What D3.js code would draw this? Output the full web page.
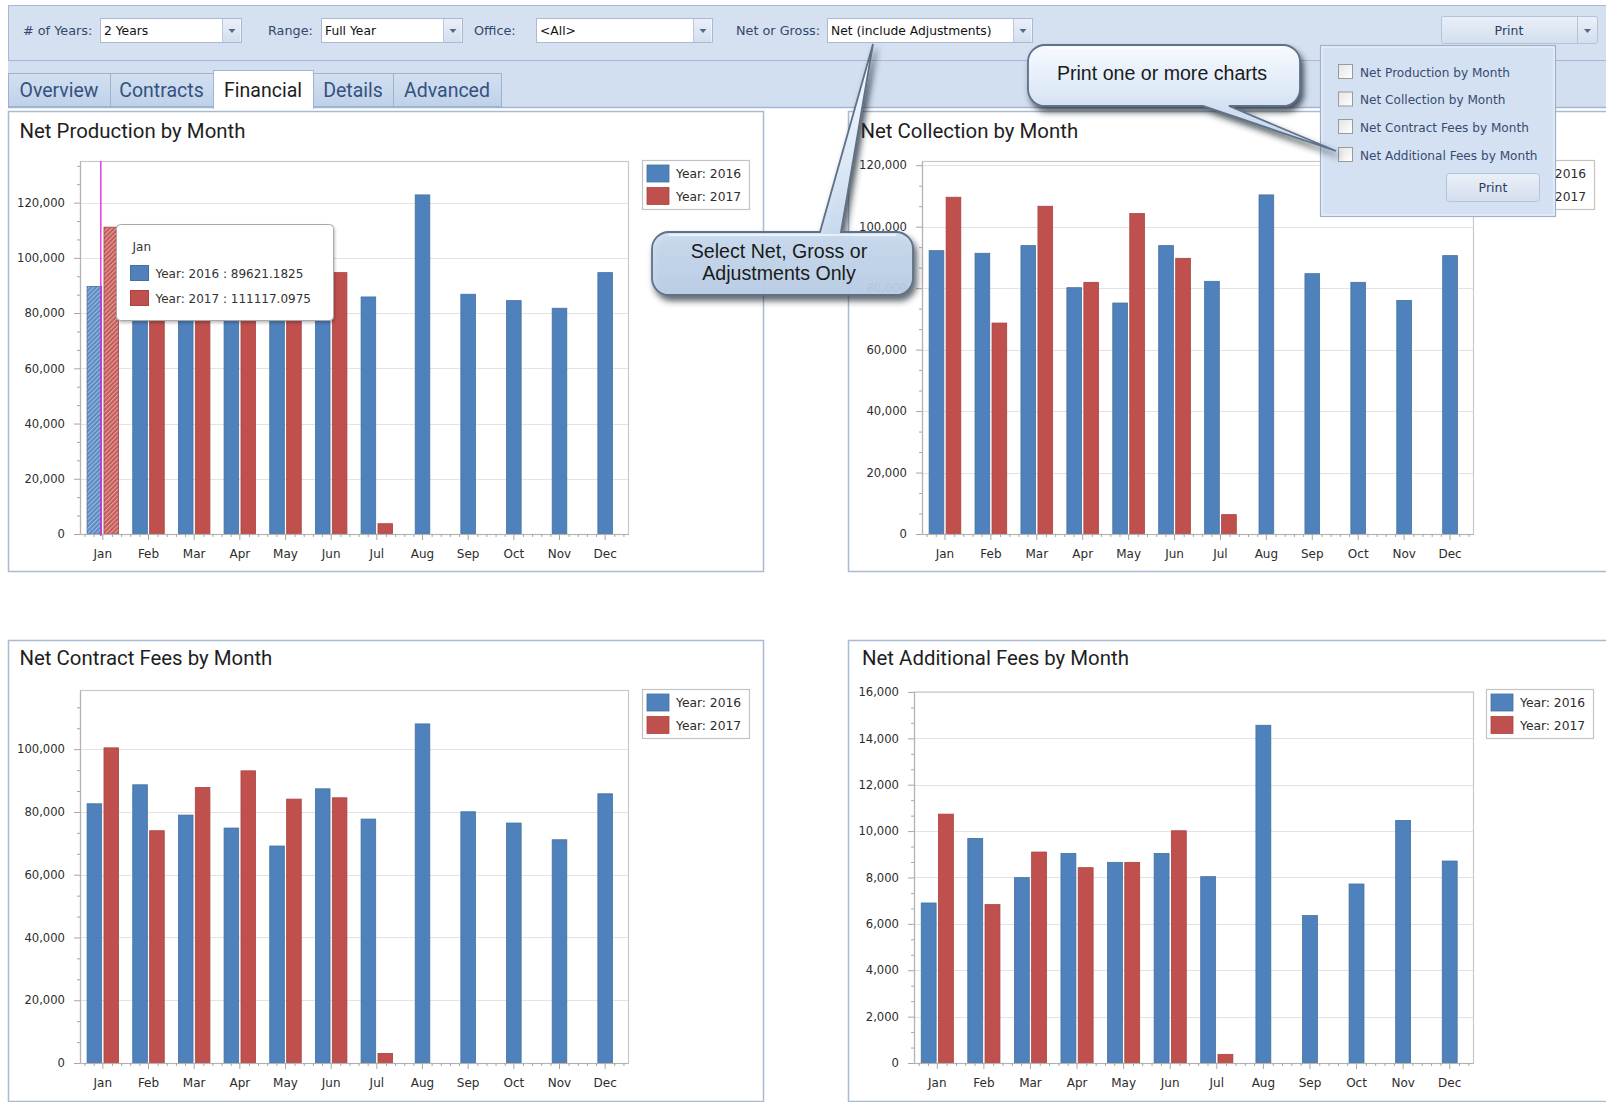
<!DOCTYPE html>
<html><head><meta charset="utf-8">
<script src="https://cdn.jsdelivr.net/npm/d3@7"></script>
<style>
html,body{margin:0;padding:0;background:#fff;overflow:hidden}
svg{display:block}
</style></head><body>
<svg id="c" width="1606" height="1102"></svg>
<script>
// ---------------- DATA ----------------
const months = ["Jan","Feb","Mar","Apr","May","Jun","Jul","Aug","Sep","Oct","Nov","Dec"];
const seriesNames = ["Year: 2016","Year: 2017"];
const production2016 = [89621.1825, 90500, 94000, 88000, 83000, 97000, 85840, 122790, 86820, 84510, 81750, 94650];
const production2017 = [111117.0975, 85000, 100000, 97000, 95000, 94650, 3730, null, null, null, null, null];
const collection2016 = [92200, 91340, 93840, 80150, 75160, 93840, 82220, 110340, 84710, 81890, 76020, 90580];
const collection2017 = [109580, 68640, 106650, 81890, 104270, 89710, 6300, null, null, null, null, null];
const contract2016 = [82600, 88650, 79000, 74870, 69140, 87370, 77730, 108050, 80050, 76460, 71140, 85780];
const contract2017 = [100420, 74010, 87810, 93100, 84090, 84510, 3060, null, null, null, null, null];
const additional2016 = [6900, 9685, 7992, 9039, 8652, 9039, 8035, 14563, 6357, 7719, 10460, 8709];
const additional2017 = [10731, 6830, 9097, 8423, 8652, 10015, 373, null, null, null, null, null];
const chartTitles = ["Net Production by Month","Net Collection by Month","Net Contract Fees by Month","Net Additional Fees by Month"];
const majorSteps = [20000, 20000, 20000, 2000];
const filterLabels = ["# of Years:","Range:","Office:","Net or Gross:"];
const filterValues = ["2 Years","Full Year","<All>","Net (include Adjustments)"];
const tabNames = ["Overview","Contracts","Financial","Details","Advanced"];
const selectedTab = "Financial";
const hoverMonth = "Jan";

// ---------------- SETUP ----------------
const svg = d3.select("#c");
const UI = "DejaVu Sans, Verdana, sans-serif";
const HEAD = "Roboto, 'Open Sans', sans-serif";
const CALL = "'Liberation Sans', Arial, sans-serif";
const BLUE = "#4f81bd", BLUE_S = "#44719f", RED = "#c0504d", RED_S = "#a84441";

const defs = svg.append("defs");
function hatch(id, base, line){
  const p = defs.append("pattern").attr("id",id).attr("patternUnits","userSpaceOnUse")
    .attr("width",3.2).attr("height",3.2).attr("patternTransform","rotate(45)");
  p.append("rect").attr("width",3.2).attr("height",3.2).attr("fill",base);
  p.append("rect").attr("width",1.1).attr("height",3.2).attr("fill",line);
}
hatch("hb","#5b89c2","#9dbbe0");
hatch("hr","#c45a57","#e3a3a1");
const gCall = defs.append("linearGradient").attr("id","gcall").attr("x1",0).attr("y1",0).attr("x2",0).attr("y2",1);
gCall.append("stop").attr("offset","0").attr("stop-color","#f7faff");
gCall.append("stop").attr("offset","0.45").attr("stop-color","#dde9f7");
gCall.append("stop").attr("offset","1").attr("stop-color","#c0d5ee").attr("stop-opacity",0.85);
const gBtn = defs.append("linearGradient").attr("id","gbtn").attr("x1",0).attr("y1",0).attr("x2",0).attr("y2",1);
gBtn.append("stop").attr("offset","0").attr("stop-color","#eaf0f8");
gBtn.append("stop").attr("offset","1").attr("stop-color","#d3deee");
const gTab = defs.append("linearGradient").attr("id","gtab").attr("x1",0).attr("y1",0).attr("x2",0).attr("y2",1);
gTab.append("stop").attr("offset","0").attr("stop-color","#d3e0f1");
gTab.append("stop").attr("offset","1").attr("stop-color","#bfd1e9");
const gChk = defs.append("linearGradient").attr("id","gchk").attr("x1",0).attr("y1",0).attr("x2",1).attr("y2",1);
gChk.append("stop").attr("offset","0").attr("stop-color","#e4e4e4");
gChk.append("stop").attr("offset","1").attr("stop-color","#ffffff");
const fSh = defs.append("filter").attr("id","shadow").attr("x","-20%").attr("y","-20%").attr("width","150%").attr("height","170%");
fSh.append("feDropShadow").attr("dx",3).attr("dy",5).attr("stdDeviation",3.2).attr("flood-color","#222a36").attr("flood-opacity",0.8);
const fTip = defs.append("filter").attr("id","tipshadow").attr("x","-10%").attr("y","-10%").attr("width","130%").attr("height","140%");
fTip.append("feDropShadow").attr("dx",1).attr("dy",2).attr("stdDeviation",1.5).attr("flood-color","#000").attr("flood-opacity",0.25);

// ---------------- PANELS ----------------
const panels = [[8,111,755,460],[848,111,800,460],[8,640,755,461],[848,640,800,461]];
svg.append("g").selectAll("rect").data(panels).join("rect")
  .attr("x",d=>d[0]+0.5).attr("y",d=>d[1]+0.5).attr("width",d=>d[2]).attr("height",d=>d[3])
  .attr("fill","#fff").attr("stroke","#a9bbd3").attr("stroke-width",1.5);

// ---------------- CHART ----------------
function drawChart(cfg){
  const g = svg.append("g");
  const x = d3.scaleBand().domain(months).range([cfg.x0,cfg.x1]);
  const vals = cfg.a.concat(cfg.b).filter(v=>v!=null);
  const ymax = d3.max(vals)*1.1;
  const y = d3.scaleLinear().domain([0,ymax]).range([cfg.y1,cfg.y0]);
  const major = d3.range(0, ymax, cfg.step);
  const minor = d3.range(0, ymax, cfg.step/3).filter((v,i)=>i%3!==0);

  g.append("text").text(cfg.title).attr("x",cfg.tx).attr("y",cfg.ty)
    .attr("font-family",HEAD).attr("font-size",20.4).attr("fill","#1e1e1e");

  g.append("g").selectAll("line").data(major.slice(1)).join("line")
    .attr("x1",cfg.x0).attr("x2",cfg.x1).attr("y1",d=>Math.round(y(d))+0.5).attr("y2",d=>Math.round(y(d))+0.5)
    .attr("stroke","#e3e3e3");

  const bw = x.bandwidth()*0.32, gap = x.bandwidth()*0.05;
  const rows = months.map((m,i)=>({m,a:cfg.a[i],b:cfg.b[i]}));
  const bars = [];
  rows.forEach(r=>{
    const c = x(r.m)+x.bandwidth()/2;
    if(r.b!=null){
      bars.push({m:r.m,v:r.a,x:c-gap/2-bw,s:0});
      bars.push({m:r.m,v:r.b,x:c+gap/2,s:1});
    } else bars.push({m:r.m,v:r.a,x:c-bw/2,s:0});
  });
  g.append("g").selectAll("rect").data(bars).join("rect")
    .attr("x",d=>d.x).attr("width",bw)
    .attr("y",d=>y(d.v)).attr("height",d=>y(0)-y(d.v))
    .attr("fill",d=> (cfg.hover && d.m===hoverMonth) ? (d.s? "url(#hr)":"url(#hb)") : (d.s? RED: BLUE))
    .attr("stroke",d=> d.s? RED_S: BLUE_S).attr("stroke-width",0.8);

  g.append("rect").attr("x",cfg.x0+0.5).attr("y",cfg.y0+0.5).attr("width",cfg.x1-cfg.x0).attr("height",cfg.y1-cfg.y0)
    .attr("fill","none").attr("stroke","#c8c8c8").attr("stroke-width",1.2);

  // axes
  const ya = g.append("g").attr("transform",`translate(${cfg.x0},0)`)
    .call(d3.axisLeft(y).tickValues(major).tickSize(6).tickPadding(9).tickSizeOuter(0).tickFormat(d3.format(",")));
  const ym = g.append("g").attr("transform",`translate(${cfg.x0},0)`)
    .call(d3.axisLeft(y).tickValues(minor).tickSize(3).tickFormat(""));
  ym.select(".domain").remove();
  const xa = g.append("g").attr("transform",`translate(0,${cfg.y1})`)
    .call(d3.axisBottom(x).tickSize(6).tickPadding(9).tickSizeOuter(0));
  const xl = d3.scaleLinear().domain([-0.5,11.5]).range([cfg.x0,cfg.x1]);
  const mx = [];
  months.forEach((m,i)=>[-2,-1,1,2].forEach(j=>mx.push(i+j/5)));
  const xm = g.append("g").attr("transform",`translate(0,${cfg.y1})`)
    .call(d3.axisBottom(xl).tickValues(mx).tickSize(3).tickFormat(""));
  xm.select(".domain").remove();
  [ya,ym,xa,xm].forEach(a=>{
    a.selectAll(".domain").attr("stroke","#b3b3b3").attr("stroke-width",1.2);
    a.selectAll(".tick line").attr("stroke","#a6a6a6");
    a.attr("font-family",UI).attr("font-size",11.6);
    a.selectAll("text").attr("fill","#2c2c2c");
  });
  xa.attr("font-size",12);

  // legend
  const lg = g.append("g").attr("transform",`translate(${cfg.lx},${cfg.ly})`);
  lg.append("rect").attr("x",0.5).attr("y",0.5).attr("width",107).attr("height",49)
    .attr("fill","#fff").attr("stroke","#c4c4c4").attr("stroke-width",1.2);
  const li = lg.selectAll("g").data(seriesNames).join("g").attr("transform",(d,i)=>`translate(5,${5+i*22.5})`);
  li.append("rect").attr("width",22).attr("height",17).attr("fill",(d,i)=>i?RED:BLUE).attr("stroke",(d,i)=>i?RED_S:BLUE_S).attr("stroke-width",0.8);
  li.append("text").text(d=>d).attr("x",29).attr("y",13).attr("font-family",UI).attr("font-size",12.3).attr("fill","#2c2c2c");

  return {x,y,g,bw,gap};
}

const c1 = drawChart({title:chartTitles[0],tx:19.5,ty:138,x0:80,x1:628,y0:161,y1:534,a:production2016,b:production2017,step:majorSteps[0],lx:642,ly:160,hover:true});
drawChart({title:chartTitles[1],tx:860.5,ty:138,x0:922,x1:1473,y0:161,y1:534,a:collection2016,b:collection2017,step:majorSteps[1],lx:1487,ly:160});
drawChart({title:chartTitles[2],tx:19.5,ty:665,x0:80,x1:628,y0:690,y1:1063,a:contract2016,b:contract2017,step:majorSteps[2],lx:642,ly:689});
drawChart({title:chartTitles[3],tx:862,ty:665,x0:914,x1:1473,y0:691.5,y1:1063,a:additional2016,b:additional2017,step:majorSteps[3],lx:1486,ly:689});

// crosshair + tooltip on chart 1
{
  const cx = c1.x(hoverMonth)+c1.x.bandwidth()/2 - 2;
  c1.g.append("line").attr("x1",cx).attr("x2",cx).attr("y1",161).attr("y2",536)
    .attr("stroke","#e020e0").attr("stroke-width",1.3);
  const i = months.indexOf(hoverMonth);
  const tip = c1.g.append("g").attr("transform","translate(116.5,224.5)");
  tip.append("rect").attr("width",217).attr("height",96).attr("rx",4)
    .attr("fill","#fff").attr("stroke","#a8a8a8").attr("filter","url(#tipshadow)");
  tip.append("text").text(hoverMonth).attr("x",16).attr("y",26).attr("font-family",UI).attr("font-size",12).attr("fill","#333");
  const tv = [[seriesNames[0]+" : "+production2016[i], BLUE, BLUE_S],[seriesNames[1]+" : "+production2017[i], RED, RED_S]];
  const tr = tip.selectAll("g.r").data(tv).join("g").attr("class","r").attr("transform",(d,k)=>`translate(14,${41+k*25})`);
  tr.append("rect").attr("width",18).attr("height",15).attr("fill",d=>d[1]).attr("stroke",d=>d[2]);
  tr.append("text").text(d=>d[0]).attr("x",25).attr("y",12.5).attr("font-family",UI).attr("font-size",12).attr("fill","#333");
}

// ---------------- TOOLBAR ----------------
svg.append("rect").attr("x",8.5).attr("y",5.5).attr("width",1610).attr("height",55)
  .attr("fill","#d5e1f1").attr("stroke","#a7b9d3");
svg.append("rect").attr("x",8).attr("y",61).attr("width",1610).attr("height",46).attr("fill","#d2dff0");
svg.append("line").attr("x1",8).attr("x2",1606).attr("y1",107.5).attr("y2",107.5).attr("stroke","#a3b6d1").attr("stroke-width",1.5);

const labelX = [23,268,474,736];
const combos = [[100,141],[321,141],[536,176],[827,205]];
filterLabels.forEach((t,k)=>{
  svg.append("text").text(t).attr("x",labelX[k]).attr("y",35).attr("font-family",UI).attr("font-size",12.8).attr("fill","#33476a");
  const [cx,cw] = combos[k];
  svg.append("rect").attr("x",cx+0.5).attr("y",18.5).attr("width",cw).attr("height",24).attr("fill","#fff").attr("stroke","#a9bad2");
  svg.append("rect").attr("x",cx+cw-18.5).attr("y",19).attr("width",18).attr("height",23).attr("fill","url(#gbtn)");
  svg.append("line").attr("x1",cx+cw-18.5).attr("x2",cx+cw-18.5).attr("y1",19).attr("y2",42).attr("stroke","#b9c8dc");
  svg.append("path").attr("d",`M${cx+cw-12.5},29 h7 l-3.5,4 z`).attr("fill","#566a88");
  svg.append("text").text(filterValues[k]).attr("x",cx+4).attr("y",35).attr("font-family",UI).attr("font-size",12.3).attr("fill","#111");
});
// Print button
svg.append("rect").attr("x",1441.5).attr("y",16.5).attr("width",156).attr("height",27).attr("rx",2).attr("fill","url(#gbtn)").attr("stroke","#b3c3d9");
svg.append("line").attr("x1",1577.5).attr("x2",1577.5).attr("y1",17).attr("y2",43).attr("stroke","#b3c3d9");
svg.append("path").attr("d","M1584,29 h7 l-3.5,4 z").attr("fill","#566a88");
svg.append("text").text("Print").attr("x",1509).attr("y",35).attr("text-anchor","middle").attr("font-family",UI).attr("font-size",12.5).attr("fill","#2a3d5e");

// tabs
const tabX = [8,110,213,313,393,501];
tabNames.forEach((t,k)=>{
  const sel = t===selectedTab;
  const x0 = tabX[k], w = tabX[k+1]-tabX[k];
  svg.append("rect").attr("x",x0+0.5).attr("y",sel?70.5:73.5).attr("width",w).attr("height",sel?38:33)
    .attr("fill",sel?"#fff":"url(#gtab)").attr("stroke",sel?"#a3b6d1":"#9db2cf");
  if(sel) svg.append("rect").attr("x",x0+1).attr("y",106).attr("width",w-1).attr("height",3).attr("fill","#fff");
  svg.append("text").text(t).attr("x",x0+w/2).attr("y",97).attr("text-anchor","middle")
    .attr("font-family",HEAD).attr("font-size",19.5).attr("fill",sel?"#1e1e1e":"#34527e");
});

// ---------------- PRINT POPUP ----------------
svg.append("rect").attr("x",1320.5).attr("y",45.5).attr("width",235).attr("height",171)
  .attr("fill","#d4e1f2").attr("stroke","#9fb0c8").attr("stroke-width",1.2);
svg.append("rect").attr("x",1322).attr("y",47).attr("width",232).attr("height",168).attr("fill","none").attr("stroke","#eef3fa");
const chkY = [72,99.5,127,155];
chartTitles.forEach((t,k)=>{
  svg.append("rect").attr("x",1338.5).attr("y",chkY[k]-7.5).attr("width",14).attr("height",14)
    .attr("fill","url(#gchk)").attr("stroke","#9a9a9a");
  svg.append("text").text(t).attr("x",1360).attr("y",chkY[k]+4.5).attr("font-family",UI).attr("font-size",12.1).attr("fill","#364b70");
});
svg.append("rect").attr("x",1446.5).attr("y",173.5).attr("width",93).attr("height",28).attr("rx",3).attr("fill","url(#gbtn)").attr("stroke","#b4c3d8");
svg.append("text").text("Print").attr("x",1493).attr("y",192).attr("text-anchor","middle").attr("font-family",UI).attr("font-size",12.5).attr("fill","#2a3d5e");

// ---------------- CALLOUTS ----------------
function callout(x,y,w,h,r,b1,b2,tip,side){
  let d;
  if(side==="top"){
    d = `M${x+r},${y} L${b1},${y} L${tip[0]},${tip[1]} L${b2},${y} L${x+w-r},${y} A${r},${r} 0 0 1 ${x+w},${y+r} L${x+w},${y+h-r} A${r},${r} 0 0 1 ${x+w-r},${y+h} L${x+r},${y+h} A${r},${r} 0 0 1 ${x},${y+h-r} L${x},${y+r} A${r},${r} 0 0 1 ${x+r},${y} Z`;
  } else {
    d = `M${x+r},${y} L${x+w-r},${y} A${r},${r} 0 0 1 ${x+w},${y+r} L${x+w},${y+h-r} A${r},${r} 0 0 1 ${x+w-r},${y+h} L${b2},${y+h} L${tip[0]},${tip[1]} L${b1},${y+h} L${x+r},${y+h} A${r},${r} 0 0 1 ${x},${y+h-r} L${x},${y+r} A${r},${r} 0 0 1 ${x+r},${y} Z`;
  }
  svg.append("path").attr("d",d).attr("fill","url(#gcall)")
    .attr("stroke","#5f7089").attr("stroke-width",1.8).attr("filter","url(#shadow)");
  svg.append("path").attr("d",`M${x+r},${y+3} L${x+w-r},${y+3}`).attr("stroke","#ffffff").attr("stroke-width",1.5).attr("opacity",0.8);
}
callout(652,232,261,63,17,820,841,[873,44],"top");
svg.append("text").attr("x",779).attr("y",258).attr("text-anchor","middle").attr("font-family",CALL).attr("font-size",19.6).attr("fill","#1a1a1a").text("Select Net, Gross or");
svg.append("text").attr("x",779).attr("y",280).attr("text-anchor","middle").attr("font-family",CALL).attr("font-size",19.6).attr("fill","#1a1a1a").text("Adjustments Only");
callout(1028,45,272,61,17,1203,1229,[1336,151],"bottom");
svg.append("text").attr("x",1162).attr("y",80).attr("text-anchor","middle").attr("font-family",CALL).attr("font-size",19.6).attr("fill","#1a1a1a").text("Print one or more charts");
</script>
</body></html>
